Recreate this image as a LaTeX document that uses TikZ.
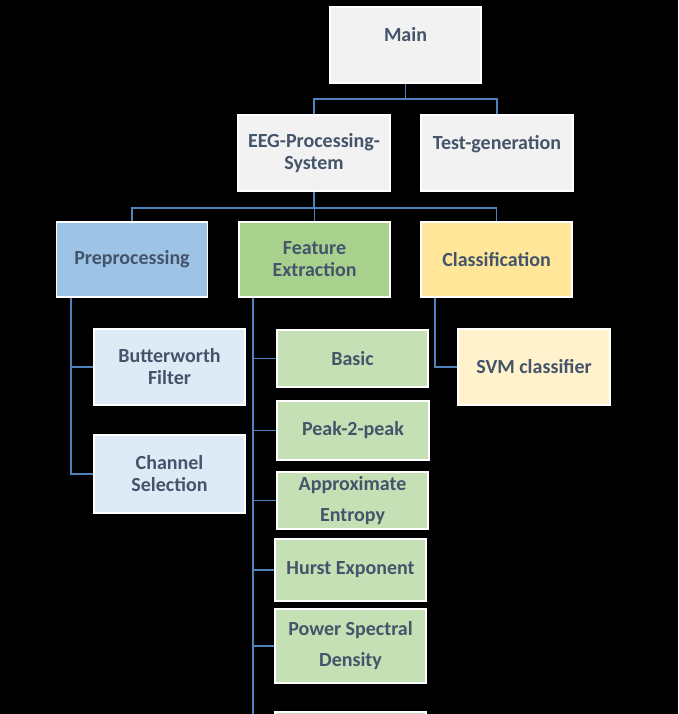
\documentclass[tikz,border=0pt]{standalone}
\usepackage{fontspec}
\setmainfont{Carlito}
\usepackage{tikz}
\definecolor{boxtext}{HTML}{44546A}
\definecolor{linkblue}{HTML}{4F81BD}
\definecolor{greyfill}{HTML}{F2F2F2}
\definecolor{prefill}{HTML}{9DC3E6}
\definecolor{prelight}{HTML}{DEEBF7}
\definecolor{featfill}{HTML}{A9D18E}
\definecolor{featlight}{HTML}{C5E0B4}
\definecolor{classfill}{HTML}{FFE699}
\definecolor{classlight}{HTML}{FFF2CC}
\tikzset{
  box/.style     = { draw=white, line width=1.6pt, rectangle, inner sep=0pt,
                     align=center, text=boxtext,
                     font=\fontsize{20}{22}\selectfont\bfseries,
                     minimum width=#1 },
  box/.default   = 151pt,
  link/.style    = { draw=linkblue, line width=1.8pt },
  widelines/.style = { font=\fontsize{20}{31}\selectfont\bfseries }
}
\begin{document}
\begin{tikzpicture}[x=1pt,y=-1pt]
  \fill[black] (0,0) rectangle (678,714);
  \clip (0,0) rectangle (678,714);
  % Draw top levels
  \node[box=151pt, fill=greyfill, minimum height=76pt] (main) at (405.5,45) {Main\\~};
  \node[box=152pt, fill=greyfill, minimum height=76pt] (eeg) at (314,153) {EEG-Processing-\\System};
  \node[box=152pt, fill=greyfill, minimum height=76pt] (test) at (497,153) {Test-generation\\~};
  \node[box, fill=prefill, minimum height=75pt] (pre) at (132,259.5) {Preprocessing};
  \node[box, fill=featfill, minimum height=75pt] (feat) at (314.5,259.5) {Feature\\Extraction};
  \node[box, fill=classfill, minimum height=75pt] (class) at (496.5,259.5) {Classification};
  % Draw children
  \node[box, fill=prelight, minimum height=76pt] (butter) at (169.5,367) {Butterworth\\Filter};
  \node[box, fill=prelight, minimum height=78pt] (chan) at (169.5,474) {Channel\\Selection};
  \node[box=152pt, fill=classlight, minimum height=76pt] (svm) at (534,367) {SVM classifier};
  \node[box, fill=featlight, minimum height=57pt] (basic) at (352.5,358.5) {Basic};
  \node[box=152pt, fill=featlight, minimum height=59pt] (peak) at (353,430.5) {Peak-2-peak};
  \node[box, widelines, fill=featlight, minimum height=57pt] (apen) at (352.5,500.5) {Approximate\\Entropy};
  \node[box, fill=featlight, minimum height=62pt] (hurst) at (350.5,570) {Hurst Exponent};
  \node[box, widelines, fill=featlight, minimum height=74pt] (psd) at (350.5,646) {Power Spectral\\Density};
  \node[box, fill=featlight, minimum height=66pt] (more) at (350.5,745) {};
  % Draw connectors
  \draw[link] (main.south) -- ++(0,15) -| (eeg.north);
  \draw[link] (main.south) -- ++(0,15) -| (test.north);
  \draw[link] (eeg.south) -- ++(0,16) -| (pre.north);
  \draw[link] (eeg.south) -- ++(0,16) -| (feat.north);
  \draw[link] (eeg.south) -- ++(0,16) -| (class.north);
  \draw[link] ([xshift=15pt]pre.south west) |- (butter.west);
  \draw[link] ([xshift=15pt]pre.south west) |- (chan.west);
  \draw[link] ([xshift=15pt]class.south west) |- (svm.west);
  \draw[link] ([xshift=15pt]feat.south west) |- (more.west);
  \foreach \n in {basic,peak,apen,hurst,psd}
    \draw[link] ([xshift=15pt]feat.south west) |- (\n.west);
\end{tikzpicture}
\end{document}
